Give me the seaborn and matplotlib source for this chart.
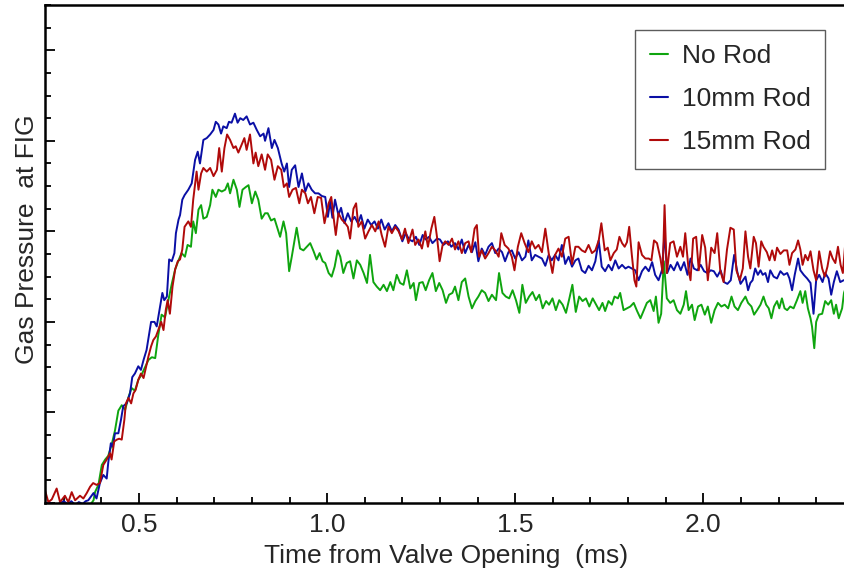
import matplotlib as mpl

mpl.use("Agg")

import matplotlib.pyplot as plt
import pandas as pd
import seaborn as sns
from matplotlib.ticker import FormatStrFormatter, MultipleLocator

sns.set_theme(style="white")
plt.rcParams["font.family"] = ["Liberation Sans", "DejaVu Sans"]

t_no_rod = [
    0.250, 0.262, 0.275, 0.288, 0.300, 0.312, 0.325, 0.338, 0.350, 0.362, 0.372, 0.379, 0.383, 0.392,
    0.401, 0.410, 0.418, 0.427, 0.436, 0.445, 0.454, 0.463, 0.472, 0.480, 0.489, 0.498, 0.507, 0.516,
    0.525, 0.534, 0.543, 0.551, 0.560, 0.569, 0.578, 0.587, 0.596, 0.605, 0.613, 0.622,
    0.629, 0.638, 0.644, 0.651, 0.658, 0.665, 0.671, 0.680, 0.689, 0.695, 0.704, 0.711, 0.720, 0.729,
    0.736, 0.742, 0.751, 0.760, 0.767, 0.775, 0.784, 0.791, 0.800, 0.809, 0.817, 0.826, 0.835, 0.842,
    0.851, 0.860, 0.869, 0.875, 0.884, 0.891, 0.899, 0.906, 0.912, 0.919, 0.928, 0.937, 0.946, 0.955,
    0.964, 0.972, 0.980, 0.988,
    0.995, 1.004, 1.012, 1.020, 1.028, 1.035, 1.043, 1.052, 1.061, 1.070, 1.079, 1.088, 1.097, 1.106,
    1.114, 1.123, 1.132, 1.141, 1.150, 1.159, 1.168, 1.176, 1.185, 1.194, 1.203, 1.212, 1.221, 1.230,
    1.236, 1.245, 1.254, 1.262, 1.271, 1.280, 1.289, 1.298, 1.307, 1.316, 1.324, 1.333, 1.340, 1.349,
    1.358,
    1.367, 1.376, 1.385, 1.394, 1.402, 1.411, 1.420, 1.429, 1.438, 1.449, 1.457, 1.466, 1.475, 1.484,
    1.493, 1.502, 1.511, 1.519, 1.528, 1.537, 1.546, 1.555, 1.564, 1.573, 1.582, 1.590, 1.599, 1.608,
    1.617, 1.626, 1.635, 1.644, 1.652, 1.661, 1.670, 1.679, 1.688, 1.697, 1.706, 1.715, 1.723, 1.732,
    1.739, 1.748, 1.757, 1.764, 1.773, 1.779, 1.788, 1.797, 1.806, 1.815, 1.824, 1.833, 1.841, 1.850,
    1.859, 1.868, 1.874, 1.881, 1.888, 1.895, 1.903, 1.912, 1.921, 1.930, 1.939, 1.948, 1.954, 1.961,
    1.970, 1.977, 1.986, 1.995, 2.004, 2.012, 2.021, 2.030, 2.039, 2.048, 2.057, 2.066, 2.075, 2.083,
    2.092, 2.101,
    2.112, 2.119, 2.128, 2.135, 2.143, 2.152, 2.160, 2.167, 2.174, 2.181, 2.188, 2.196, 2.202, 2.209,
    2.216, 2.223, 2.231, 2.240, 2.249, 2.258, 2.264, 2.271, 2.278, 2.285, 2.289, 2.295, 2.300, 2.307,
    2.316, 2.324, 2.332, 2.340, 2.347, 2.353, 2.360, 2.369, 2.374, 2.378,
]
p_no_rod = [
    -0.03, -0.01, -0.04, -0.02, -0.03, -0.01, -0.03, -0.02, -0.01, -0.03, -0.01, 0.03, 0.12, 0.20,
    0.42, 0.48, 0.52, 0.64, 0.80, 1.02, 1.08, 1.03, 1.17, 1.27, 1.24, 1.36, 1.42, 1.50,
    1.58, 1.61, 1.60, 1.85, 2.08, 2.05, 2.24, 2.42, 2.58, 2.68, 2.76, 2.72,
    2.85, 2.83, 3.11, 2.98, 3.24, 3.29, 3.14, 3.16, 3.29, 3.46, 3.38, 3.46, 3.44, 3.46,
    3.53, 3.42, 3.57, 3.46, 3.27, 3.46, 3.49, 3.51, 3.31, 3.44, 3.35, 3.14, 3.20, 3.20,
    3.12, 3.14, 3.02, 2.94, 3.11, 2.98, 2.56, 2.72, 2.87, 3.04, 2.81, 2.79, 2.83, 2.87,
    2.78, 2.69, 2.76, 2.67,
    2.65, 2.54, 2.50, 2.61, 2.79, 2.72, 2.54, 2.65, 2.67, 2.48, 2.68, 2.63, 2.54, 2.43,
    2.74, 2.44, 2.39, 2.35, 2.41, 2.34, 2.44, 2.35, 2.52, 2.43, 2.41, 2.57, 2.37, 2.43,
    2.24, 2.43, 2.44, 2.35, 2.46, 2.54, 2.34, 2.43, 2.35, 2.21, 2.30, 2.32, 2.39, 2.24,
    2.44,
    2.48, 2.28, 2.15, 2.23, 2.28, 2.35, 2.32, 2.23, 2.30, 2.24, 2.54, 2.32, 2.28, 2.26,
    2.35, 2.24, 2.10, 2.41, 2.21, 2.28, 2.33, 2.24, 2.30, 2.15, 2.23, 2.19, 2.26, 2.13,
    2.24, 2.19, 2.10, 2.26, 2.41, 2.11, 2.28, 2.23, 2.26, 2.17, 2.26, 2.19, 2.13, 2.21,
    2.12, 2.23, 2.19, 2.28, 2.26, 2.32, 2.13, 2.15, 2.17, 2.21, 2.12, 2.04, 2.12, 2.21,
    2.24, 2.12, 2.28, 1.99, 2.09, 2.67, 2.26, 2.21, 2.24, 2.13, 2.09, 2.19, 2.34, 2.13,
    2.19, 2.02, 2.17, 2.19, 2.08, 2.17, 1.99, 2.13, 2.21, 2.17, 2.19, 2.15, 2.28, 2.17,
    2.13, 2.21,
    2.28, 2.21, 2.17, 2.08, 2.13, 2.19, 2.28, 2.19, 2.15, 2.04, 2.17, 2.23, 2.15, 2.26,
    2.15, 2.13, 2.17, 2.15, 2.24, 2.34, 2.21, 2.34, 2.15, 2.04, 1.95, 1.71, 2.00, 2.08,
    2.09, 2.23, 2.19, 2.24, 2.09, 2.19, 2.04, 2.15, 2.32, 2.37,
]

t_10mm = [
    0.250, 0.260, 0.275, 0.290, 0.300, 0.310, 0.320, 0.330, 0.340, 0.350, 0.358,
    0.365, 0.379, 0.387, 0.396, 0.405, 0.414, 0.418, 0.425, 0.430, 0.436, 0.445, 0.452, 0.458, 0.467,
    0.476, 0.482, 0.489, 0.498, 0.505, 0.512, 0.520, 0.527, 0.532, 0.541, 0.547, 0.556, 0.562, 0.567,
    0.574, 0.580, 0.587, 0.594, 0.598, 0.605, 0.609, 0.615, 0.621,
    0.631, 0.640, 0.649, 0.656, 0.662, 0.671, 0.680, 0.689, 0.698, 0.704, 0.711, 0.718, 0.724, 0.733,
    0.739, 0.746, 0.755, 0.762, 0.769, 0.777, 0.786, 0.795, 0.804, 0.813, 0.822, 0.831, 0.835, 0.844,
    0.853, 0.860, 0.869, 0.879, 0.886, 0.893, 0.899, 0.906, 0.915, 0.924, 0.933, 0.942, 0.950, 0.959,
    0.968, 0.977, 0.986,
    0.995, 1.002, 1.008, 1.014, 1.021, 1.030, 1.037, 1.046, 1.055, 1.064, 1.073, 1.082, 1.090, 1.099,
    1.108, 1.117, 1.126, 1.135, 1.144, 1.153, 1.163, 1.172, 1.181, 1.190, 1.200, 1.209, 1.218, 1.227,
    1.236, 1.245, 1.254, 1.262, 1.271, 1.280, 1.292, 1.300, 1.309, 1.321, 1.330, 1.340, 1.349, 1.358,
    1.367, 1.376, 1.385, 1.394, 1.402, 1.411, 1.420, 1.429, 1.438, 1.447, 1.456, 1.465, 1.473, 1.482,
    1.491, 1.500, 1.509, 1.518, 1.527, 1.535, 1.544, 1.553, 1.562, 1.571, 1.580, 1.589, 1.597, 1.606,
    1.615, 1.624, 1.633, 1.642, 1.651, 1.660, 1.668, 1.677, 1.686, 1.695, 1.704, 1.713, 1.722, 1.730,
    1.739, 1.748, 1.757, 1.766, 1.775, 1.784, 1.793, 1.801, 1.810, 1.819, 1.828, 1.837, 1.846, 1.855,
    1.864, 1.872, 1.881, 1.890, 1.897, 1.904, 1.913, 1.922, 1.931, 1.940, 1.949, 1.958, 1.966, 1.975,
    1.984, 1.993, 2.002, 2.011, 2.020, 2.028, 2.037, 2.046, 2.055, 2.064, 2.073, 2.082, 2.091, 2.099,
    2.112, 2.119, 2.125, 2.131, 2.138, 2.145, 2.152, 2.158, 2.165, 2.172, 2.178, 2.187, 2.196, 2.205,
    2.214, 2.223, 2.229, 2.236, 2.243, 2.252, 2.258, 2.267, 2.276, 2.285, 2.293, 2.300, 2.308, 2.317,
    2.324, 2.333, 2.340, 2.347, 2.355, 2.364, 2.373, 2.378,
]
p_10mm = [
    -0.02, 0.01, -0.03, 0.00, 0.02, -0.01, 0.02, -0.02, 0.01, -0.01, 0.02,
    0.03, 0.11, 0.05, 0.22, 0.31, 0.27, 0.44, 0.66, 0.62, 0.77, 0.77, 0.92, 1.07, 1.10,
    1.21, 1.39, 1.43, 1.51, 1.47, 1.58, 1.69, 1.87, 2.00, 2.00, 1.95, 2.17, 2.32, 2.24,
    2.28, 2.69, 2.67, 2.76, 2.98, 3.13, 3.18, 3.35, 3.40,
    3.46, 3.53, 3.79, 3.88, 3.75, 4.01, 4.03, 4.07, 4.12, 4.21, 4.18, 4.08, 4.16, 4.14,
    4.21, 4.20, 4.30, 4.20, 4.25, 4.23, 4.27, 4.18, 4.20, 4.12, 4.05, 4.08, 4.00, 4.14,
    3.92, 4.01, 3.92, 3.75, 3.66, 3.75, 3.49, 3.68, 3.73, 3.49, 3.64, 3.44, 3.53, 3.46,
    3.42, 3.42, 3.39,
    3.38, 3.16, 3.33, 3.15, 3.35, 3.18, 3.26, 3.09, 3.20, 3.11, 3.16, 3.09, 3.18, 3.03,
    3.13, 3.07, 3.11, 3.03, 3.13, 3.02, 3.09, 3.00, 3.07, 3.02, 2.89, 2.98, 2.91, 2.89,
    2.94, 2.85, 2.96, 2.91, 2.94, 2.87, 2.92, 2.91, 2.85, 2.89, 2.83, 2.87, 2.80, 2.91,
    2.76, 2.85, 2.77, 2.88, 2.67, 2.81, 2.74, 2.83, 2.87, 2.76, 2.81, 2.77, 2.67, 2.77,
    2.79, 2.70, 2.77, 2.68, 2.72, 2.90, 2.68, 2.74, 2.72, 2.70, 2.62, 2.74, 2.68, 2.74,
    2.68, 2.85, 2.64, 2.72, 2.61, 2.68, 2.70, 2.57, 2.54, 2.62, 2.57, 2.67, 2.90, 2.61,
    2.56, 2.63, 2.57, 2.68, 2.59, 2.63, 2.59, 2.61, 2.59, 2.57, 2.46, 2.56, 2.61, 2.56,
    2.66, 2.52, 2.46, 2.57, 2.98, 2.54, 2.63, 2.57, 2.66, 2.57, 2.66, 2.52, 2.70, 2.59,
    2.57, 2.63, 2.56, 2.54, 2.57, 2.56, 2.50, 2.57, 2.44, 2.42, 2.46, 2.74, 2.54, 2.42,
    2.50, 2.35, 2.43, 2.46, 2.59, 2.52, 2.57, 2.52, 2.54, 2.44, 2.57, 2.50, 2.48, 2.56,
    2.52, 2.54, 2.48, 2.35, 2.52, 2.70, 2.57, 2.52, 2.48, 2.43, 2.09, 2.46, 2.52, 2.44,
    2.54, 2.48, 2.30, 2.44, 2.56, 2.44, 2.46, 2.46,
]

t_15mm = [
    0.250, 0.259, 0.268, 0.281, 0.290, 0.303, 0.312, 0.321, 0.330, 0.343, 0.352, 0.361, 0.370, 0.378,
    0.387, 0.396, 0.405, 0.414, 0.423, 0.427, 0.434, 0.441, 0.447, 0.454, 0.461, 0.465, 0.472, 0.479,
    0.485, 0.491, 0.498, 0.505, 0.512, 0.519, 0.525, 0.532, 0.538, 0.545, 0.551, 0.559, 0.565, 0.571,
    0.576, 0.582, 0.589, 0.596, 0.603, 0.609, 0.615, 0.621,
    0.631, 0.638, 0.644, 0.653, 0.658, 0.665, 0.671, 0.680, 0.689, 0.698, 0.707, 0.713, 0.720, 0.727,
    0.734, 0.742, 0.751, 0.757, 0.764, 0.773, 0.780, 0.786, 0.795, 0.804, 0.810, 0.817, 0.826, 0.835,
    0.842, 0.851, 0.860, 0.869, 0.878, 0.885, 0.893, 0.899, 0.908, 0.917, 0.926, 0.933, 0.942, 0.949,
    0.957, 0.966, 0.975, 0.984, 0.993,
    1.004, 1.011, 1.017, 1.023, 1.030, 1.039, 1.048, 1.055, 1.061, 1.070, 1.077, 1.083, 1.092, 1.101,
    1.110, 1.119, 1.128, 1.137, 1.145, 1.154, 1.163, 1.172, 1.181, 1.190, 1.199, 1.207, 1.216, 1.227,
    1.234, 1.243, 1.252, 1.261, 1.268, 1.277, 1.285, 1.292, 1.299, 1.307, 1.314, 1.323, 1.332, 1.340,
    1.349, 1.358,
    1.367, 1.376, 1.383, 1.392, 1.398, 1.404, 1.411, 1.420, 1.429, 1.438, 1.447, 1.456, 1.463, 1.472,
    1.482, 1.491, 1.498, 1.507, 1.516, 1.525, 1.535, 1.544, 1.553, 1.562, 1.571, 1.580, 1.589, 1.599,
    1.606, 1.615, 1.624, 1.633, 1.642, 1.651, 1.660, 1.668, 1.677, 1.686, 1.695, 1.704, 1.713, 1.722,
    1.729, 1.738,
    1.746, 1.753, 1.762, 1.770, 1.777, 1.784, 1.791, 1.797, 1.803, 1.810, 1.817, 1.822, 1.828, 1.837,
    1.846, 1.855, 1.862, 1.869, 1.877, 1.886, 1.892, 1.897, 1.903, 1.912, 1.921, 1.930, 1.939, 1.946,
    1.952, 1.961, 1.966, 1.973, 1.981, 1.988, 1.997, 2.005, 2.012, 2.021, 2.030, 2.037, 2.045, 2.054,
    2.063, 2.072, 2.081, 2.088, 2.097, 2.105,
    2.112, 2.119, 2.125, 2.134, 2.140, 2.147, 2.154, 2.160, 2.169, 2.176, 2.183, 2.190, 2.196, 2.205,
    2.214, 2.223, 2.229, 2.236, 2.245, 2.252, 2.258, 2.264, 2.271, 2.278, 2.285, 2.293, 2.300, 2.308,
    2.316, 2.323, 2.330, 2.337, 2.344, 2.351, 2.358, 2.365, 2.371, 2.378,
]
p_15mm = [
    0.14, 0.01, 0.04, 0.16, 0.01, 0.08, 0.01, 0.12, 0.03, 0.08, 0.05, 0.11, 0.18, 0.22,
    0.20, 0.22, 0.42, 0.48, 0.55, 0.48, 0.68, 0.70, 0.71, 0.70, 0.92, 1.10, 1.16, 1.10,
    1.21, 1.25, 1.36, 1.43, 1.38, 1.51, 1.62, 1.73, 1.80, 1.84, 1.91, 2.00, 1.91, 2.13,
    2.24, 2.09, 2.39, 2.58, 2.67, 2.69, 2.80, 3.05,
    3.11, 3.05, 3.35, 3.66, 3.46, 3.64, 3.70, 3.66, 3.70, 3.61, 3.68, 3.92, 3.66, 3.92,
    4.07, 4.01, 3.92, 3.94, 3.87, 3.96, 4.03, 3.90, 4.07, 3.75, 3.87, 3.72, 3.85, 3.68,
    3.85, 3.79, 3.57, 3.72, 3.68, 3.49, 3.53, 3.38, 3.46, 3.48, 3.31, 3.46, 3.42, 3.31,
    3.38, 3.20, 3.38, 3.37, 3.09,
    3.31, 3.38, 3.16, 2.96, 3.20, 3.13, 3.09, 3.05, 2.92, 3.25, 3.31, 3.05, 3.11, 2.92,
    3.00, 3.07, 3.00, 3.11, 2.96, 2.83, 3.05, 2.98, 3.05, 3.00, 2.91, 3.03, 2.87, 3.02,
    2.85, 2.91, 2.81, 3.00, 2.83, 3.03, 3.16, 2.94, 2.67, 2.85, 2.89, 2.85, 2.92, 2.80,
    2.89, 2.76,
    2.87, 2.89, 2.77, 3.03, 3.07, 2.72, 2.79, 2.70, 2.76, 2.83, 2.79, 2.72, 2.98, 2.85,
    2.81, 2.72, 2.57, 2.83, 2.98, 2.87, 2.77, 2.89, 2.81, 2.85, 2.77, 3.03, 2.76, 2.54,
    2.74, 2.81, 2.72, 2.92, 2.94, 2.64, 2.83, 2.83, 2.79, 2.77, 2.85, 2.76, 2.79, 2.90,
    3.09, 2.79,
    2.82, 2.68, 2.76, 2.80, 2.94, 2.87, 2.83, 2.88, 3.05, 2.74, 2.46, 2.39, 2.88, 2.74,
    2.70, 2.70, 2.68, 2.90, 2.87, 2.70, 2.54, 3.29, 2.54, 2.87, 2.89, 2.72, 2.83, 2.72,
    2.98, 2.57, 2.46, 2.92, 2.94, 2.57, 2.96, 2.82, 2.46, 2.82, 2.76, 2.98, 2.57, 2.44,
    2.80, 3.04, 3.02, 2.57, 2.46, 2.59,
    3.00, 2.72, 2.59, 2.94, 2.87, 2.61, 2.89, 2.83, 2.77, 2.68, 2.79, 2.68, 2.82, 2.75,
    2.79, 2.79, 2.63, 2.76, 2.80, 2.90, 2.80, 2.63, 2.74, 2.68, 2.78, 2.57, 2.46, 2.78,
    2.59, 2.50, 2.61, 2.78, 2.70, 2.65, 2.83, 2.63, 2.54, 2.90,
]

LABELS = ["No Rod", "10mm Rod", "15mm Rod"]
COLORS = ["#0fa50f", "#0a0fa5", "#b00a0a"]


def main():
    frames = []
    for label, t, p in zip(LABELS, [t_no_rod, t_10mm, t_15mm], [p_no_rod, p_10mm, p_15mm]):
        frames.append(pd.DataFrame({"time": t, "pressure": p, "run": label}))
    df = pd.concat(frames, ignore_index=True)

    fig = plt.figure(figsize=(8.45, 5.76), dpi=100)
    # right spine sits just past the canvas edge, as in the original
    ax = fig.add_axes([45 / 845, 1 - 503 / 576, 802 / 845, 498 / 576])

    sns.lineplot(
        data=df, x="time", y="pressure", hue="run", hue_order=LABELS,
        palette=dict(zip(LABELS, COLORS)), estimator=None, sort=False,
        linewidth=1.4, ax=ax,
    )

    ax.set_xlim(0.25, 2.382)
    ax.set_ylim(0, 5.5)
    ax.xaxis.set_major_locator(MultipleLocator(0.5))
    ax.xaxis.set_minor_locator(MultipleLocator(0.1))
    ax.xaxis.set_major_formatter(FormatStrFormatter("%.1f"))
    ax.yaxis.set_major_locator(MultipleLocator(1.0))
    ax.yaxis.set_minor_locator(MultipleLocator(0.25))
    ax.set_yticklabels([])
    ax.tick_params(which="both", direction="in", color="black", width=1.3,
                   bottom=True, left=True, top=False, right=False)
    ax.tick_params(which="major", length=7, labelsize=19)
    ax.tick_params(axis="x", which="major", pad=7)
    ax.tick_params(axis="y", which="major", pad=0)
    ax.tick_params(which="minor", length=4)
    for spine in ax.spines.values():
        spine.set_color("black")
        spine.set_linewidth(1.8)

    ax.set_xlabel("Time from Valve Opening  (ms)", fontsize=19, labelpad=5)
    ax.set_ylabel("Gas Pressure  at FIG", fontsize=19)
    ax.yaxis.set_label_coords(-0.007, 0.53)

    leg = ax.legend(
        loc="upper right", bbox_to_anchor=(0.9726, 0.95), borderaxespad=0,
        fontsize=19, handlelength=0.7, handletextpad=0.5, labelspacing=0.72,
        borderpad=0.55, frameon=True, fancybox=False, title=None,
    )
    leg.get_frame().set_edgecolor("#333333")
    leg.get_frame().set_linewidth(1.0)
    for line in leg.get_lines():
        line.set_linewidth(1.5)

    fig.savefig("out.png", dpi=100)
    plt.close(fig)


if __name__ == "__main__":
    main()
